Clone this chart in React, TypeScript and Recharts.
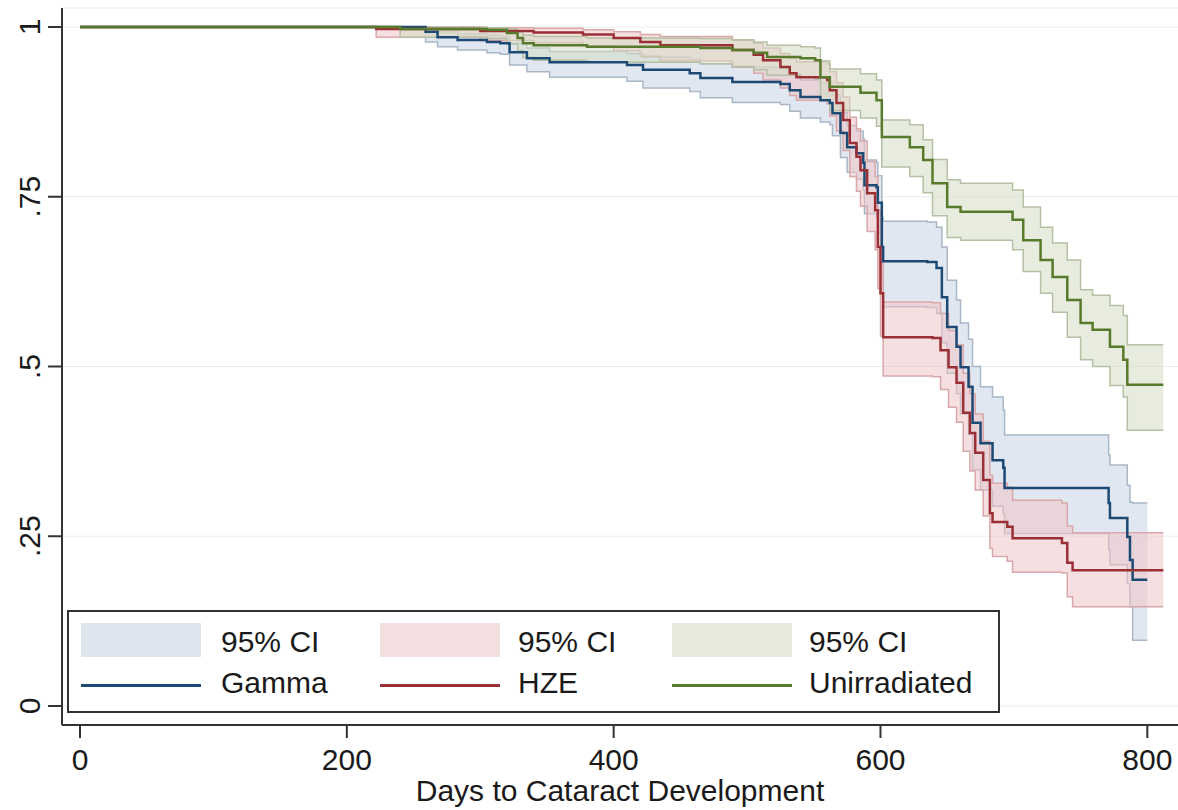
import { Area, CartesianGrid, ComposedChart, Line, XAxis, YAxis } from 'recharts';

// Kaplan-Meier steps: day of step, survival after it, 95% CI
const gammaDays = [0, 259, 268, 283, 305, 315, 322, 335, 352, 410, 422, 457, 465, 489, 525, 532, 540, 555, 562, 564, 570, 575, 582, 587, 588, 597, 598, 601, 602, 635, 642, 646, 650, 657, 660, 666, 669, 675, 684, 692, 693, 771, 772, 785, 787, 789, 800];
const gammaSurv = [1, 0.993, 0.985, 0.981, 0.978, 0.976, 0.963, 0.954, 0.948, 0.944, 0.937, 0.932, 0.925, 0.919, 0.916, 0.907, 0.897, 0.892, 0.888, 0.873, 0.844, 0.823, 0.814, 0.8, 0.767, 0.764, 0.741, 0.676, 0.655, 0.654, 0.645, 0.602, 0.558, 0.529, 0.499, 0.47, 0.417, 0.387, 0.362, 0.351, 0.321, 0.299, 0.277, 0.249, 0.215, 0.186, 0.186];
const gammaLo = [1, 0.978, 0.971, 0.966, 0.962, 0.96, 0.944, 0.934, 0.926, 0.92, 0.91, 0.905, 0.896, 0.889, 0.886, 0.876, 0.866, 0.86, 0.856, 0.84, 0.808, 0.786, 0.776, 0.76, 0.725, 0.72, 0.696, 0.628, 0.588, 0.587, 0.578, 0.535, 0.49, 0.46, 0.43, 0.4, 0.348, 0.318, 0.294, 0.283, 0.254, 0.23, 0.208, 0.18, 0.146, 0.097, 0.097];
const gammaHi = [1, 0.998, 0.993, 0.99, 0.988, 0.986, 0.976, 0.969, 0.964, 0.961, 0.956, 0.952, 0.946, 0.941, 0.939, 0.931, 0.922, 0.918, 0.914, 0.9, 0.874, 0.855, 0.847, 0.835, 0.804, 0.801, 0.781, 0.72, 0.714, 0.713, 0.705, 0.676, 0.627, 0.598, 0.564, 0.54, 0.5, 0.47, 0.455, 0.436, 0.399, 0.37, 0.355, 0.325, 0.3, 0.299, 0.299];

const hzeDays = [0, 222, 300, 340, 377, 400, 420, 435, 489, 505, 512, 525, 532, 537, 560, 562, 567, 572, 577, 582, 585, 590, 596, 598, 600, 602, 639, 645, 651, 657, 662, 667, 671, 677, 682, 684, 695, 699, 736, 740, 744, 812];
const hzeSurv = [1, 0.997, 0.994, 0.992, 0.989, 0.984, 0.978, 0.973, 0.966, 0.959, 0.951, 0.941, 0.932, 0.926, 0.922, 0.907, 0.888, 0.863, 0.829, 0.809, 0.789, 0.755, 0.73, 0.676, 0.608, 0.543, 0.542, 0.524, 0.499, 0.476, 0.432, 0.402, 0.373, 0.333, 0.284, 0.271, 0.264, 0.247, 0.24, 0.211, 0.2, 0.2];
const hzeLo = [1, 0.985, 0.98, 0.977, 0.972, 0.965, 0.957, 0.95, 0.941, 0.932, 0.922, 0.91, 0.899, 0.892, 0.887, 0.869, 0.847, 0.818, 0.78, 0.758, 0.736, 0.699, 0.672, 0.615, 0.545, 0.486, 0.485, 0.466, 0.44, 0.418, 0.375, 0.346, 0.318, 0.28, 0.232, 0.22, 0.213, 0.197, 0.196, 0.161, 0.146, 0.146];
const hzeHi = [1, 1, 0.999, 0.998, 0.996, 0.993, 0.989, 0.986, 0.981, 0.976, 0.969, 0.961, 0.954, 0.949, 0.946, 0.934, 0.918, 0.897, 0.867, 0.85, 0.832, 0.802, 0.78, 0.73, 0.666, 0.595, 0.594, 0.578, 0.553, 0.532, 0.49, 0.46, 0.43, 0.39, 0.34, 0.328, 0.322, 0.303, 0.299, 0.265, 0.255, 0.255];

const unirrDays = [0, 240, 305, 320, 328, 332, 340, 380, 465, 489, 505, 515, 540, 551, 555, 562, 585, 597, 601, 622, 632, 639, 650, 660, 699, 707, 720, 729, 740, 750, 759, 772, 782, 785, 812];
const unirrSurv = [1, 0.997, 0.996, 0.991, 0.984, 0.976, 0.973, 0.971, 0.969, 0.966, 0.962, 0.956, 0.954, 0.951, 0.926, 0.912, 0.903, 0.892, 0.838, 0.823, 0.804, 0.77, 0.735, 0.728, 0.716, 0.686, 0.657, 0.632, 0.598, 0.564, 0.554, 0.529, 0.51, 0.473, 0.473];
const unirrLo = [1, 0.985, 0.983, 0.975, 0.965, 0.955, 0.951, 0.948, 0.946, 0.942, 0.937, 0.929, 0.926, 0.923, 0.893, 0.877, 0.866, 0.854, 0.794, 0.78, 0.756, 0.722, 0.69, 0.686, 0.672, 0.64, 0.608, 0.58, 0.543, 0.51, 0.5, 0.472, 0.455, 0.406, 0.406];
const unirrHi = [1, 1, 0.999, 0.997, 0.993, 0.988, 0.986, 0.984, 0.983, 0.981, 0.978, 0.973, 0.971, 0.969, 0.95, 0.938, 0.931, 0.922, 0.863, 0.856, 0.834, 0.805, 0.775, 0.77, 0.76, 0.735, 0.705, 0.682, 0.657, 0.613, 0.605, 0.59, 0.575, 0.532, 0.532];

const xTicks = [0, 200, 400, 600, 800];
const yTicks = [0, 0.25, 0.5, 0.75, 1];
const yTickLabels = ['0', '.25', '.5', '.75', '1'];

interface Row {
  t: number;
  s: number;
  ci: [number, number];
}

function toRows(days: number[], surv: number[], lo: number[], hi: number[]): Row[] {
  return days.map((t, i) => ({ t, s: surv[i], ci: [lo[i], hi[i]] }));
}

const gamma = toRows(gammaDays, gammaSurv, gammaLo, gammaHi);
const hze = toRows(hzeDays, hzeSurv, hzeLo, hzeHi);
const unirr = toRows(unirrDays, unirrSurv, unirrLo, unirrHi);

const FONT = '"Liberation Sans", Arial, Helvetica, sans-serif';
const INK = '#1a1a1a';

const series = [
  { key: 'gamma', name: 'Gamma', data: gamma, line: '#1d4a74', band: '#c6d4e3', edge: '#a9b7c7', patch: '#dde5ee' },
  { key: 'hze', name: 'HZE', data: hze, line: '#9a3036', band: '#efc4c6', edge: '#d8a8aa', patch: '#f3dfe0' },
  { key: 'unirr', name: 'Unirradiated', data: unirr, line: '#587a2c', band: '#d4ddc5', edge: '#b5c0a4', patch: '#e5eadc' },
];

function XTick(props: any) {
  const { x, y, payload } = props;
  return (
    <text x={x} y={y + 30} textAnchor="middle" fontSize={30} fill={INK} fontFamily={FONT}>
      {payload.value}
    </text>
  );
}

function YTick(props: any) {
  const { x, y, payload } = props;
  const i = yTicks.indexOf(payload.value);
  return (
    <text
      x={0}
      y={0}
      transform={`translate(${x - 6},${y}) rotate(-90)`}
      textAnchor="middle"
      fontSize={30}
      fill={INK}
      fontFamily={FONT}
    >
      {yTickLabels[i]}
    </text>
  );
}

function LegendBox() {
  const patchX = [12, 311, 603];
  const textX = [152, 449, 740];
  const txt = { position: 'absolute' as const, fontSize: 30, lineHeight: '30px', color: INK, whiteSpace: 'nowrap' as const };
  return (
    <div
      style={{
        position: 'absolute',
        left: 67,
        top: 610,
        width: 933,
        height: 103,
        boxSizing: 'border-box',
        border: '2px solid #333',
        background: '#fff',
        fontFamily: FONT,
      }}
    >
      {series.map((s, i) => (
        <div key={s.key}>
          <div style={{ position: 'absolute', left: patchX[i], top: 11, width: 120, height: 34, background: s.patch }} />
          <div style={{ ...txt, left: textX[i], top: 15 }}>95% CI</div>
          <div style={{ position: 'absolute', left: patchX[i], top: 72, width: 120, height: 2.5, background: s.line }} />
          <div style={{ ...txt, left: textX[i], top: 56 }}>{s.name}</div>
        </div>
      ))}
    </div>
  );
}

export default function App() {
  return (
    <div style={{ position: 'absolute', left: 0, top: 0, width: 1178, height: 810, background: '#fff', fontFamily: FONT }}>
      <ComposedChart width={1178} height={810} margin={{ top: 8, right: 0, bottom: 0, left: 0 }}>
        <CartesianGrid horizontal vertical={false} stroke="#ececec" strokeWidth={1} />
        <XAxis
          type="number"
          dataKey="t"
          domain={[-13.5, 823]}
          allowDataOverflow
          ticks={xTicks}
          tick={<XTick />}
          tickSize={13}
          height={85}
          axisLine={{ stroke: '#333', strokeWidth: 2 }}
          tickLine={{ stroke: '#333', strokeWidth: 2 }}
          label={{ value: 'Days to Cataract Development', position: 'insideBottom', offset: 9, fontSize: 30, fill: INK, fontFamily: FONT }}
        />
        <YAxis
          type="number"
          domain={[-0.028, 1.028]}
          allowDataOverflow
          ticks={yTicks}
          tick={<YTick />}
          tickSize={14}
          width={62}
          axisLine={{ stroke: '#333', strokeWidth: 2 }}
          tickLine={{ stroke: '#333', strokeWidth: 2 }}
        />
        {series.map((s) => (
          <Area
            key={`${s.key}-ci`}
            data={s.data}
            dataKey="ci"
            type="stepAfter"
            fill={s.band}
            fillOpacity={0.55}
            stroke={s.edge}
            strokeWidth={1.5}
            isAnimationActive={false}
            activeDot={false}
          />
        ))}
        {series.map((s) => (
          <Line
            key={s.key}
            data={s.data}
            dataKey="s"
            type="stepAfter"
            stroke={s.line}
            strokeWidth={2.5}
            dot={false}
            activeDot={false}
            isAnimationActive={false}
          />
        ))}
      </ComposedChart>
      <LegendBox />
    </div>
  );
}
